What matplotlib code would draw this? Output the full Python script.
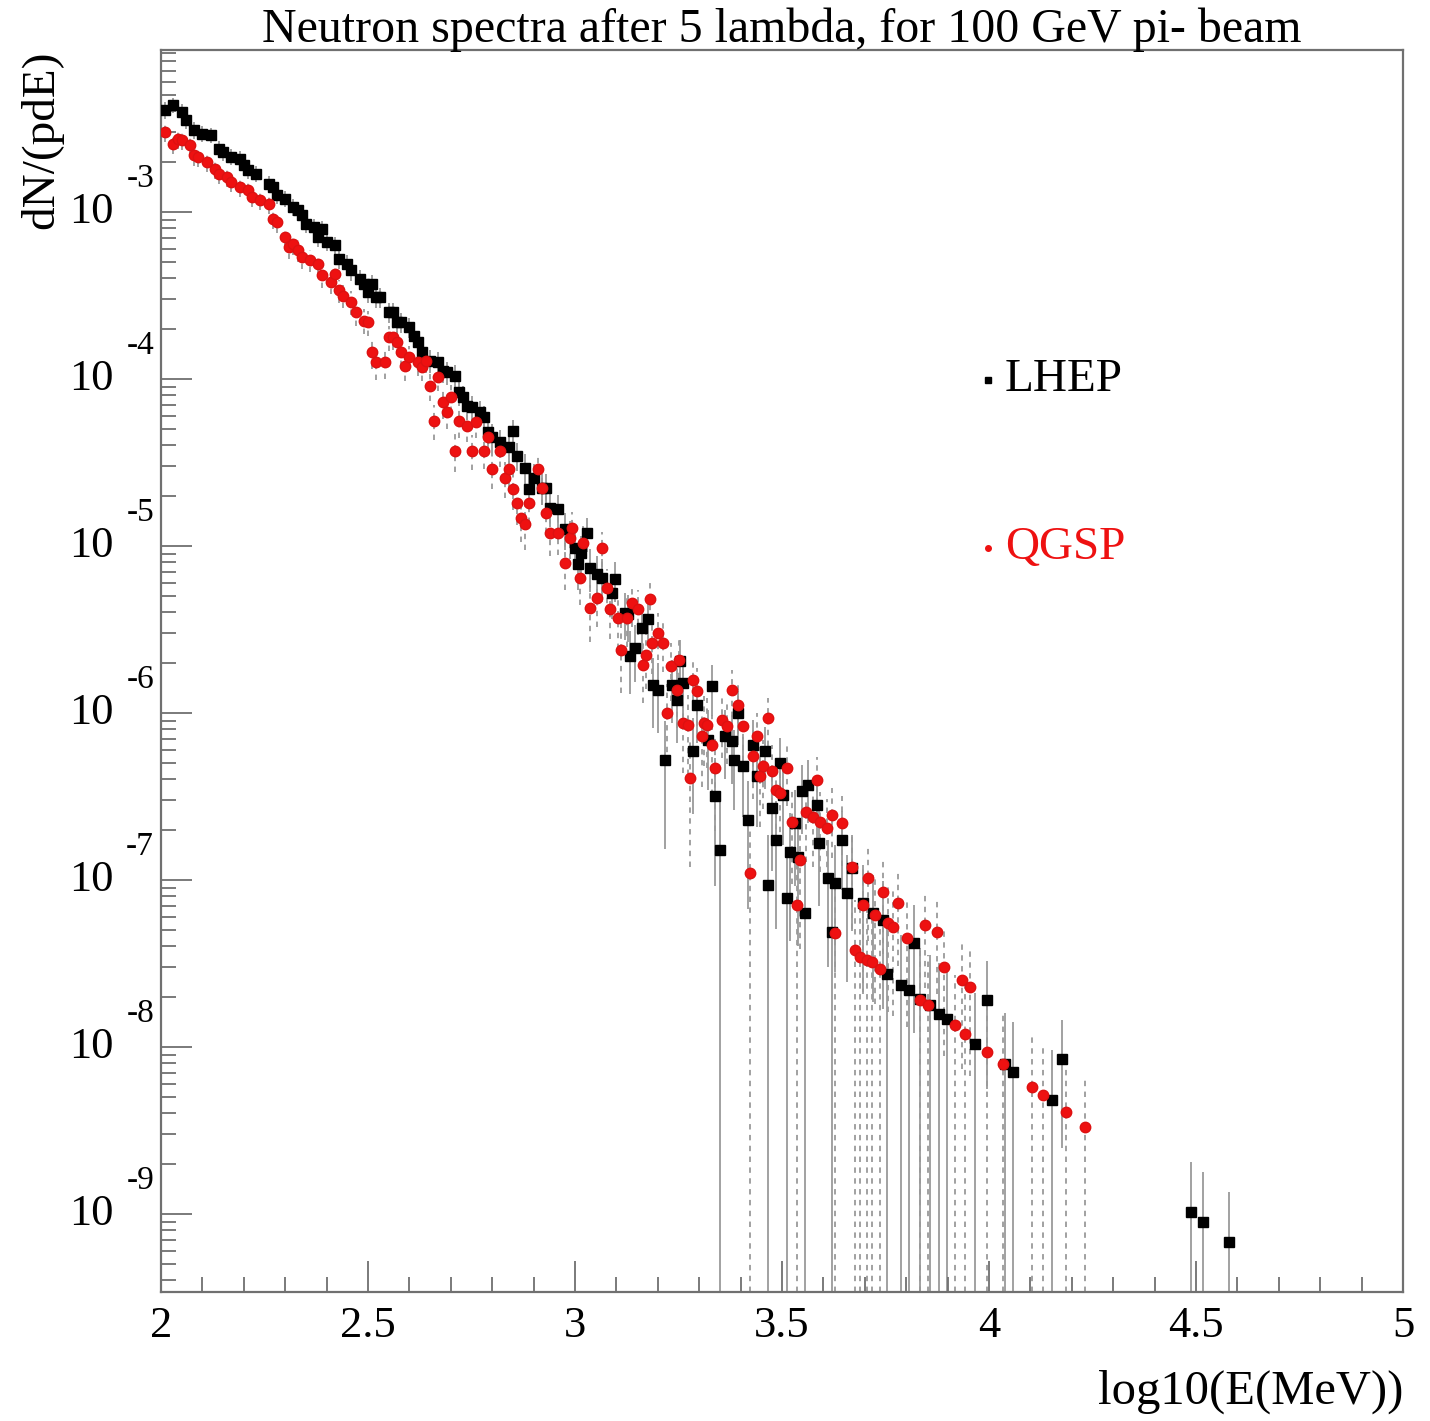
import numpy as np
import matplotlib.pyplot as plt
from matplotlib.ticker import MultipleLocator, LogLocator, NullFormatter

plt.rcParams['font.family'] = ['Liberation Serif', 'DejaVu Serif']

# bin centre log10(E/MeV) and log10(dN/(pdE))
lhep_x = [2.01, 2.03, 2.05, 2.06, 2.08, 2.10, 2.12, 2.14, 2.15, 2.17, 2.19, 2.20,
          2.21, 2.23, 2.26, 2.27, 2.28, 2.30, 2.32, 2.33, 2.34, 2.35, 2.37, 2.38,
          2.39, 2.40, 2.42, 2.43, 2.45, 2.46, 2.48, 2.49, 2.50, 2.51, 2.52, 2.53,
          2.55, 2.56, 2.57, 2.58, 2.60, 2.61, 2.62, 2.63, 2.65, 2.67, 2.68, 2.69,
          2.71, 2.72, 2.73, 2.74, 2.75, 2.77, 2.78, 2.79, 2.80, 2.82, 2.84, 2.85,
          2.86, 2.88, 2.89, 2.90, 2.92, 2.93, 2.94, 2.96,
          2.976, 3.000, 3.007, 3.014, 3.029, 3.036, 3.053, 3.065, 3.089, 3.097,
          3.121, 3.128, 3.133, 3.145, 3.162, 3.176, 3.188, 3.200, 3.217, 3.234,
          3.246, 3.254, 3.260, 3.285, 3.295, 3.321, 3.331, 3.338, 3.350, 3.362,
          3.379, 3.384, 3.394, 3.406, 3.418, 3.430, 3.440, 3.459, 3.466, 3.476,
          3.486, 3.495, 3.502, 3.512, 3.519, 3.531, 3.539, 3.548, 3.556, 3.563,
          3.585, 3.590, 3.611, 3.621, 3.628, 3.645, 3.657, 3.669, 3.696, 3.720,
          3.744, 3.754, 3.787, 3.807, 3.819, 3.833, 3.857, 3.879, 3.899, 3.966,
          3.995, 4.039, 4.058, 4.152, 4.176, 4.488, 4.517, 4.580]
lhep_logy = [-2.39, -2.36, -2.40, -2.45, -2.51, -2.53, -2.54, -2.62, -2.64, -2.67, -2.68, -2.72,
             -2.75, -2.77, -2.83, -2.85, -2.90, -2.92, -2.97, -2.99, -3.02, -3.07, -3.09, -3.15,
             -3.10, -3.18, -3.20, -3.28, -3.31, -3.35, -3.40, -3.43, -3.48, -3.43, -3.51, -3.51,
             -3.60, -3.60, -3.66, -3.66, -3.69, -3.74, -3.78, -3.84, -3.89, -3.90, -3.95, -3.96,
             -3.98, -4.08, -4.11, -4.16, -4.17, -4.20, -4.23, -4.32, -4.35, -4.38, -4.41, -4.31,
             -4.46, -4.53, -4.66, -4.59, -4.65, -4.65, -4.77, -4.78,
             -4.90, -5.01, -5.11, -5.04, -4.92, -5.13, -5.17, -5.19, -5.28, -5.20,
             -5.40, -5.41, -5.66, -5.61, -5.49, -5.44, -5.83, -5.86, -6.28, -5.83,
             -5.92, -5.69, -5.82, -6.23, -5.95, -6.16, -5.84, -6.50, -6.82, -6.14,
             -6.17, -6.28, -6.00, -6.32, -6.64, -6.19, -6.38, -6.23, -7.03, -6.57,
             -6.76, -6.30, -6.49, -7.11, -6.83, -6.66, -6.86, -6.47, -7.20, -6.43,
             -6.55, -6.78, -6.99, -7.31, -7.02, -6.76, -7.08, -6.93, -7.14, -7.20,
             -7.24, -7.56, -7.63, -7.66, -7.38, -7.71, -7.75, -7.80, -7.83, -7.98,
             -7.72, -8.10, -8.15, -8.32, -8.07, -8.99, -9.05, -9.17]

qgsp_x = [2.01, 2.03, 2.04, 2.05, 2.07, 2.08, 2.09, 2.11, 2.13, 2.14, 2.16, 2.17,
          2.19, 2.21, 2.22, 2.24, 2.26, 2.27, 2.28, 2.30, 2.31, 2.32, 2.33, 2.34,
          2.36, 2.38, 2.39, 2.41, 2.42, 2.43, 2.44, 2.46, 2.47, 2.49, 2.50, 2.51,
          2.52, 2.54, 2.55, 2.56, 2.57, 2.58, 2.59, 2.60, 2.62, 2.63, 2.64, 2.65,
          2.66, 2.67, 2.68, 2.69, 2.70, 2.71, 2.72, 2.74, 2.75, 2.76, 2.78, 2.79,
          2.80, 2.82, 2.83, 2.84, 2.85, 2.86, 2.87, 2.88, 2.89, 2.91, 2.92, 2.93, 2.94,
          2.959, 2.976, 2.988, 2.993, 3.012, 3.019, 3.036, 3.053, 3.065, 3.077,
          3.085, 3.104, 3.110, 3.126, 3.138, 3.152, 3.164, 3.172, 3.180, 3.186,
          3.200, 3.213, 3.222, 3.232, 3.246, 3.252, 3.261, 3.273, 3.278, 3.285,
          3.295, 3.307, 3.312, 3.319, 3.331, 3.338, 3.355, 3.367, 3.379, 3.394,
          3.406, 3.423, 3.430, 3.440, 3.447, 3.455, 3.466, 3.476, 3.486, 3.495,
          3.512, 3.524, 3.536, 3.543, 3.558, 3.575, 3.585, 3.592, 3.609, 3.621,
          3.628, 3.645, 3.669, 3.676, 3.688, 3.696, 3.705, 3.708, 3.717, 3.725,
          3.737, 3.744, 3.756, 3.768, 3.780, 3.802, 3.833, 3.845, 3.853, 3.874,
          3.891, 3.918, 3.935, 3.942, 3.954, 3.995, 4.034, 4.104, 4.130, 4.186, 4.232]
qgsp_logy = [-2.52, -2.59, -2.56, -2.57, -2.60, -2.66, -2.67, -2.70, -2.74, -2.77, -2.79, -2.82,
             -2.85, -2.87, -2.91, -2.93, -2.95, -3.04, -3.06, -3.15, -3.21, -3.19, -3.23, -3.27,
             -3.29, -3.31, -3.38, -3.42, -3.37, -3.47, -3.50, -3.54, -3.60, -3.65, -3.66, -3.84,
             -3.90, -3.90, -3.75, -3.75, -3.78, -3.84, -3.92, -3.87, -3.90, -3.93, -3.89, -4.04,
             -4.25, -3.99, -4.14, -4.20, -4.11, -4.43, -4.25, -4.28, -4.43, -4.26, -4.43, -4.35,
             -4.54, -4.43, -4.59, -4.54, -4.66, -4.74, -4.83, -4.87, -4.74, -4.54, -4.65, -4.80, -4.92,
             -4.92, -5.10, -4.95, -4.89, -5.19, -4.98, -5.37, -5.31, -5.01, -5.25,
             -5.38, -5.43, -5.62, -5.43, -5.34, -5.38, -5.71, -5.65, -5.32, -5.58,
             -5.52, -5.58, -6.00, -5.72, -5.86, -5.68, -6.06, -6.07, -6.39, -5.80,
             -5.87, -6.14, -6.06, -6.07, -6.19, -6.33, -6.04, -6.08, -5.86, -5.95,
             -6.08, -6.96, -6.26, -6.14, -6.38, -6.32, -6.03, -6.35, -6.46, -6.48,
             -6.33, -6.65, -7.15, -6.88, -6.59, -6.62, -6.40, -6.65, -6.69, -6.61,
             -7.32, -6.66, -6.92, -7.42, -7.46, -7.15, -7.48, -6.99, -7.49, -7.21,
             -7.53, -7.07, -7.26, -7.28, -7.14, -7.35, -7.72, -7.27, -7.75, -7.31,
             -7.52, -7.87, -7.60, -7.92, -7.64, -8.03, -8.10, -8.24, -8.29, -8.39, -8.48]

# level of a single event per bin (read from the lowest isolated points)
ONE_EVENT_LOGY = -9.0   # at log10(E) = 4.5
ONE_EVENT_SLOPE = -1.9
YMIN, YMAX = 10**-9.467, 10**-2.03


def poisson_bars(x, logy):
    x = np.asarray(x)
    y = 10.0 ** np.asarray(logy)
    one = 10.0 ** (ONE_EVENT_LOGY + ONE_EVENT_SLOPE * (x - 4.5))
    n = np.maximum(1, np.round(y / one))
    err = y / np.sqrt(n)
    lo = np.where(y - err <= YMIN, YMIN, y - err)
    return x, y, lo, y + err


fig = plt.figure(figsize=(14.30, 14.21), dpi=100)
ax = fig.add_axes([0.1126, 0.0908, 0.8685, 0.8740])
ax.set_yscale('log')
ax.set_xlim(2, 5)
ax.set_ylim(YMIN, YMAX)

x, y, lo, hi = poisson_bars(lhep_x, lhep_logy)
ax.vlines(x, lo, hi, colors='#9a9a9a', lw=1.3, zorder=1)
x2, y2, lo2, hi2 = poisson_bars(qgsp_x, qgsp_logy)
ax.vlines(x2, lo2, hi2, colors='#9a9a9a', lw=1.3, linestyles=(0, (3, 3)), zorder=1)

ax.plot(x, y, 's', color='black', ms=7, mec='black', zorder=3)
ax.plot(x2, y2, 'o', color='#ee1111', ms=7.5, mec='#dd1111', zorder=4)

# ROOT-like axes
for side in ['top', 'right', 'bottom', 'left']:
    ax.spines[side].set_color('#707070')
    ax.spines[side].set_linewidth(1.6)
ax.xaxis.set_major_locator(MultipleLocator(0.5))
ax.xaxis.set_minor_locator(MultipleLocator(0.1))
ax.yaxis.set_major_locator(LogLocator(base=10, numticks=20))
ax.yaxis.set_minor_locator(LogLocator(base=10, subs=np.arange(2, 10), numticks=20))
ax.yaxis.set_minor_formatter(NullFormatter())
ax.yaxis.set_major_formatter(NullFormatter())
ax.tick_params(which='both', direction='in', top=False, right=False, color='#707070', width=1.3)
ax.tick_params(which='major', length=22)
ax.tick_params(which='minor', length=11)
ax.tick_params(axis='x', labelsize=32, pad=10)
ax.set_xticks([2, 2.5, 3, 3.5, 4, 4.5, 5])
ax.set_xticklabels(['2', '2.5', '3', '3.5', '4', '4.5', '5'])

for d in range(-9, -2):
    ax.annotate('10', xy=(0, 10.0**d), xycoords=('axes fraction', 'data'),
                xytext=(-50, 0), textcoords='offset points',
                ha='center', va='center', fontsize=32)
    ax.annotate(str(d), xy=(0, 10.0**d), xycoords=('axes fraction', 'data'),
                xytext=(-15, 24), textcoords='offset points',
                ha='center', va='center', fontsize=24)

ax.text(0.5, 1.016, 'Neutron spectra after 5 lambda, for 100 GeV pi- beam',
        transform=ax.transAxes, ha='center', va='center', fontsize=34.5)
ax.text(-0.0958, 1.0, 'dN/(pdE)', transform=ax.transAxes, rotation=90,
        ha='center', va='top', fontsize=34)
ax.text(1.0, -0.0805, 'log10(E(MeV))', transform=ax.transAxes,
        ha='right', va='center', fontsize=35)

# legend written as in the original
ax.plot([0.6659], [0.7343], 's', color='black', ms=4, transform=ax.transAxes, clip_on=False)
ax.text(0.6795, 0.7343, 'LHEP', transform=ax.transAxes, ha='left', va='center',
        fontsize=34, color='black')
ax.plot([0.6659], [0.599], 'o', color='#ee1111', ms=4, transform=ax.transAxes, clip_on=False)
ax.text(0.6795, 0.599, 'QGSP', transform=ax.transAxes, ha='left', va='center',
        fontsize=34, color='#ee1111')

fig.savefig('out.png', dpi=100, facecolor='white')
